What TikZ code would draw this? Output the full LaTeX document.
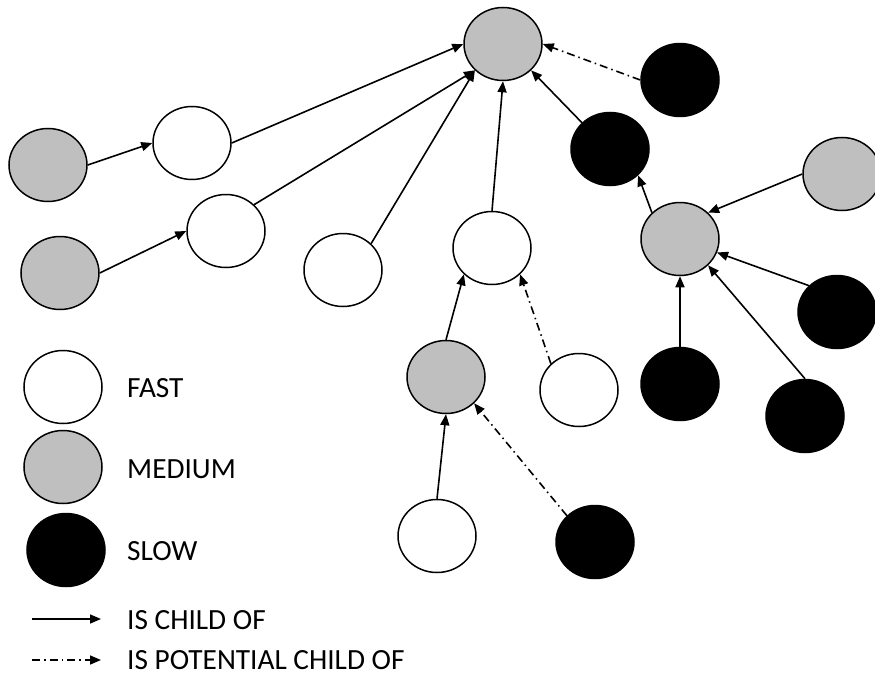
\documentclass[tikz,border=0pt]{standalone}
\usepackage{fontspec}
\setmainfont{Carlito}
\usetikzlibrary{shapes.geometric,arrows.meta}
\definecolor{midgray}{HTML}{BFBFBF}
\tikzset{
  proc/.style={ellipse, minimum width=78pt, minimum height=73pt, inner sep=0pt, line width=1.5pt},
  fastnode/.style={proc, draw=black, fill=white},
  mednode/.style={proc, draw=black, fill=midgray},
  slownode/.style={proc, draw=black, fill=black},
  child/.style={line width=1.6pt, -{Triangle[length=11pt,width=9pt]}},
  potential/.style={child, dash pattern=on 8pt off 4pt on 1.5pt off 4pt},
  legendtext/.style={anchor=base west, inner sep=0pt, font=\fontsize{29.3}{33}\selectfont}
}
\begin{document}
\begin{tikzpicture}[x=1pt, y=-1pt]
\useasboundingbox (0,0) rectangle (875,674);
\begin{scope}
\clip (0,0) rectangle (875,674);
% nodes of the tree
\node[mednode]  (root) at (503,44) {};
\node[slownode] (btr)  at (680,80) {};
\node[slownode] (bm)   at (610,149) {};
\node[mednode]  (gr)   at (842,174) {};
\node[mednode]  (gm)   at (680,239) {};
\node[slownode] (br)   at (837,312) {};
\node[slownode] (bb)   at (680,384) {};
\node[slownode] (bbr)  at (805,416) {};
\node[fastnode] (w1)   at (192,143) {};
\node[mednode]  (g1)   at (48,165) {};
\node[fastnode] (w2)   at (226,231) {};
\node[mednode]  (g2)   at (60,273) {};
\node[fastnode] (w3)   at (343,270) {};
\node[fastnode] (wm)   at (492,248) {};
\node[mednode]  (gl)   at (446,377) {};
\node[fastnode] (wr)   at (579,390) {};
\node[fastnode] (wb)   at (437,536) {};
\node[slownode] (bl)   at (595,542) {};

% parent links
\draw[child] (g1.east) -- (w1.west);
\draw[child] (w1.east) -- (root.west);
\draw[child] (g2.east) -- (w2.west);
\draw[child] (w2.north east) -- (root.south west);
\draw[child] (w3.north east) -- (root.south west);
\draw[child] (wm.north) -- (root.south);
\draw[child] (bm.north west) -- (root.south east);
\draw[potential] (btr.west) -- (root.east);
\draw[child] (gm.north west) -- (bm.south east);
\draw[child] (gr.west) -- (gm.north east);
\draw[child] (br.north west) -- (gm.-20);
\draw[child] (bb.north) -- (gm.south);
\draw[child] (bbr.north) -- (gm.south east);
\draw[child] (gl.north) -- (wm.south west);
\draw[potential] (wr.north west) -- (wm.south east);
\draw[child] (wb.north) -- (gl.south);
\draw[potential] (bl.north west) -- (gl.south east);
\end{scope}

% legend
\node[fastnode] (lf) at (63,387) {};
\node[mednode]  (lm) at (63,467) {};
\node[slownode] (ls) at (66,550) {};
\node[legendtext] (tf) at (127,397) {FAST};
\node[legendtext] (tm) at (127,478) {MEDIUM};
\node[legendtext] (ts) at (127,560) {SLOW};
\coordinate (c1a) at (32,619);
\coordinate (c1b) at (101,619);
\coordinate (c2a) at (32,660);
\coordinate (c2b) at (101,660);
\draw[child] (c1a) -- (c1b);
\draw[potential] (c2a) -- (c2b);
\node[legendtext] (tc) at (127,629) {IS CHILD OF};
\node[legendtext] (tp) at (127,669) {IS POTENTIAL CHILD OF};
\end{tikzpicture}
\end{document}
